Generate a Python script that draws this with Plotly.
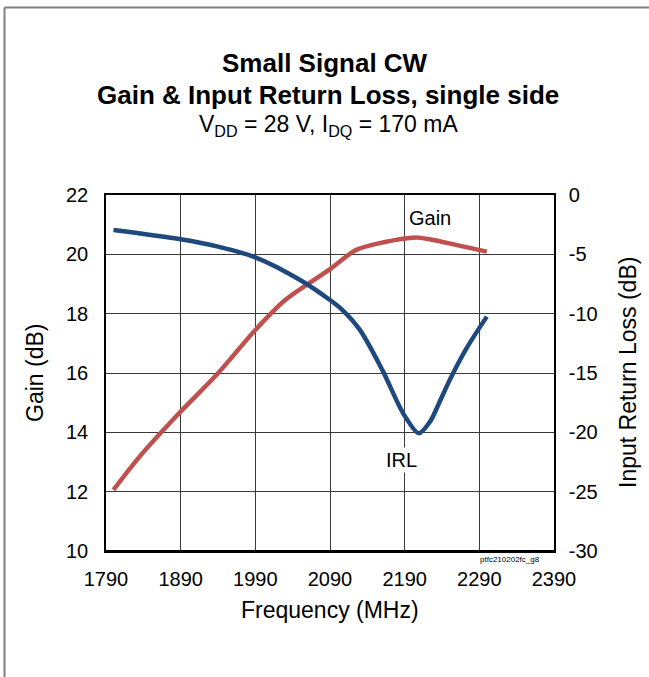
import plotly.graph_objects as go

# ---- data ----
gain_freq = [1800, 1835, 1890, 1940, 1990, 2030, 2090, 2125, 2155, 2205, 2225, 2260, 2300]
gain_db = [12.06, 13.18, 14.70, 15.99, 17.45, 18.46, 19.50, 20.15, 20.37, 20.57, 20.50, 20.31, 20.09]

irl_freq = [1800, 1890, 1940, 1990, 2050, 2090, 2105, 2130, 2160, 2188, 2209, 2224, 2237, 2251, 2273, 2300]
irl_db = [-2.95, -3.73, -4.35, -5.25, -7.16, -8.85, -9.6, -11.37, -14.74, -18.4, -20.08, -19.1, -17.4, -15.5, -12.9, -10.25]

x_ticks = [1790, 1890, 1990, 2090, 2190, 2290, 2390]
gain_ticks = [10, 12, 14, 16, 18, 20, 22]
irl_ticks = [-30, -25, -20, -15, -10, -5, 0]

FONT = "Liberation Sans, Arial, sans-serif"
RED = "#C0504D"
BLUE = "#1F497D"

W, H = 649, 677
L, R, T, B = 106, 95, 195, 126
PW, PH = W - L - R, H - T - B


def px(xp):
    return (xp - L) / PW


def py(yp):
    return (H - B - yp) / PH


fig = go.Figure()
fig.add_trace(go.Scatter(x=gain_freq, y=gain_db, mode="lines",
                         line=dict(color=RED, width=4.5, shape="spline", smoothing=0.8),
                         name="Gain", yaxis="y"))
fig.add_trace(go.Scatter(x=irl_freq, y=irl_db, mode="lines",
                         line=dict(color=BLUE, width=4.5, shape="spline", smoothing=0.8),
                         name="IRL", yaxis="y2"))

axis_common = dict(showline=True, linecolor="black", linewidth=1.5,
                   ticks="", tickfont=dict(family=FONT, size=20, color="black"),
                   zeroline=False)

fig.update_layout(
    width=W, height=H,
    margin=dict(l=L, r=R, t=T, b=B, pad=0),
    paper_bgcolor="white", plot_bgcolor="white",
    showlegend=False,
    xaxis=dict(range=[1790, 2390], tickvals=x_ticks, ticktext=[str(v) for v in x_ticks],
               showgrid=True, gridcolor="#3a3a3a", gridwidth=1.2,
               mirror=True, ticklabelstandoff=9, **axis_common),
    yaxis=dict(range=[10, 22], tickvals=gain_ticks, ticktext=[str(v) for v in gain_ticks],
               showgrid=True, gridcolor="#3a3a3a", gridwidth=1.2,
               ticklabelstandoff=12, **axis_common),
    yaxis2=dict(range=[-30, 0], tickvals=irl_ticks, ticktext=[str(v) for v in irl_ticks],
                overlaying="y", side="right", showgrid=False,
                ticklabelstandoff=9, **axis_common),
)

ann = [
    dict(text="<b>Small Signal CW</b>", x=px(325), y=py(63), font=dict(size=26)),
    dict(text="<b>Gain &amp; Input Return Loss, single side</b>", x=px(328), y=py(95), font=dict(size=26)),
    dict(text="V<sub>DD</sub> = 28 V, I<sub>DQ</sub> = 170 mA", x=px(328), y=py(125), font=dict(size=23)),
    dict(text="Gain (dB)", x=px(35), y=0.5, textangle=-90, font=dict(size=23)),
    dict(text="Input Return Loss (dB)", x=px(628), y=0.5, textangle=-90, font=dict(size=23)),
    dict(text="Frequency (MHz)", x=0.5, y=py(610), font=dict(size=23)),
    dict(text="ptfc210202fc_g8", x=px(510), y=py(559), font=dict(size=8)),
]
annotations = []
for a in ann:
    a.update(xref="paper", yref="paper", showarrow=False, xanchor="center", yanchor="middle")
    a["font"] = dict(family=FONT, color="black", **a["font"])
    annotations.append(a)

annotations.append(dict(text="Gain", x=2224, y=21.22, xref="x", yref="y", showarrow=False,
                        font=dict(family=FONT, size=20, color="black"), bgcolor="white"))
annotations.append(dict(text="IRL", x=2186, y=13.07, xref="x", yref="y", showarrow=False,
                        font=dict(family=FONT, size=20, color="black"), bgcolor="white"))
fig.update_layout(annotations=annotations)

# outer frame (top and left edges visible)
fig.add_shape(type="line", xref="paper", yref="paper", x0=px(4.5), x1=px(660), y0=py(7.5), y1=py(7.5),
              line=dict(color="#7f7f7f", width=2))
fig.add_shape(type="line", xref="paper", yref="paper", x0=px(4.5), x1=px(4.5), y0=py(7.5), y1=py(690),
              line=dict(color="#7f7f7f", width=2))
# thicker bottom axis line
fig.add_shape(type="line", xref="paper", yref="paper", x0=0, x1=1, y0=0, y1=0,
              line=dict(color="black", width=2.2))

fig.write_html("out.html",
               config={"displayModeBar": False},
               post_script="document.body.style.margin='0';document.body.style.overflow='hidden';")
